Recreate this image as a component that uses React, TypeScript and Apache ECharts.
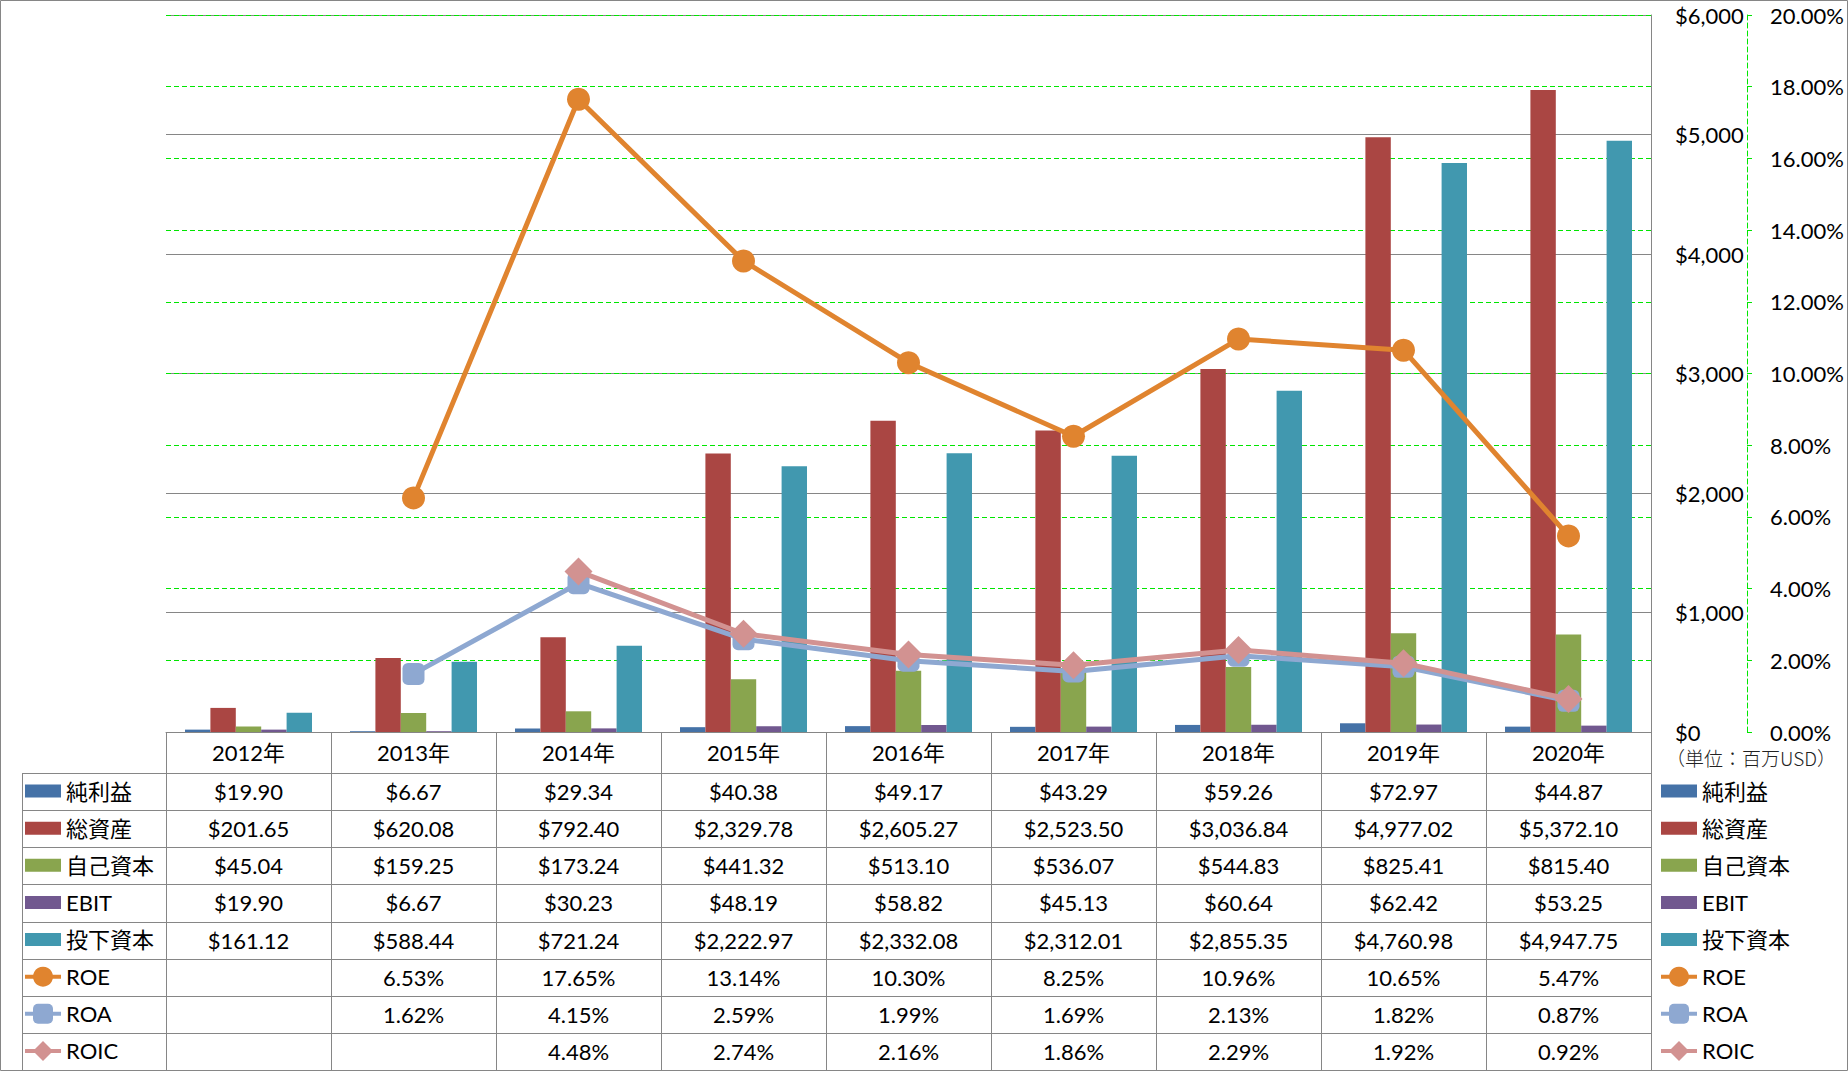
import React, { useEffect, useRef } from 'react';
import * as echarts from 'echarts';

// ---- data ----
const years = ['2012年', '2013年', '2014年', '2015年', '2016年', '2017年', '2018年', '2019年', '2020年'];
const netIncome = [19.9, 6.67, 29.34, 40.38, 49.17, 43.29, 59.26, 72.97, 44.87];
const totalAssets = [201.65, 620.08, 792.4, 2329.78, 2605.27, 2523.5, 3036.84, 4977.02, 5372.1];
const equity = [45.04, 159.25, 173.24, 441.32, 513.1, 536.07, 544.83, 825.41, 815.4];
const ebit = [19.9, 6.67, 30.23, 48.19, 58.82, 45.13, 60.64, 62.42, 53.25];
const investedCapital = [161.12, 588.44, 721.24, 2222.97, 2332.08, 2312.01, 2855.35, 4760.98, 4947.75];
const roe = [null, 6.53, 17.65, 13.14, 10.3, 8.25, 10.96, 10.65, 5.47];
const roa = [null, 1.62, 4.15, 2.59, 1.99, 1.69, 2.13, 1.82, 0.87];
const roic = [null, null, 4.48, 2.74, 2.16, 1.86, 2.29, 1.92, 0.92];

const barNames = ['純利益', '総資産', '自己資本', 'EBIT', '投下資本'];
const lineNames = ['ROE', 'ROA', 'ROIC'];
const barData = [netIncome, totalAssets, equity, ebit, investedCapital];
const lineData = [roe, roa, roic];
const barColors = ['#4572A7', '#AA4643', '#89A54E', '#71588F', '#4198AF'];
const lineColors = ['#E0842F', '#8EA8D1', '#D29291'];
const lineSymbols = ['circle', 'roundRect', 'diamond'];
const lineSymbolSizes = [23, 22, 28];
const unitText = '（単位：百万USD）';

// ---- layout ----
const W = 1848;
const H = 1071;
const PL = 166;
const PR = 1651;
const PT = 15;
const PB = 732;
const HEADER_H = 41;
const ROW_H = 37.125;
const TABLE_LEFT = 22;
const TABLE_BOTTOM = 1070;
const FONT = 'Lato, "Noto Sans CJK JP", sans-serif';
const GRAY = '#868686';
const GREEN = '#00e600';
const LEG_ITEM_H = 25;
const LEG_TEXT_H = 22;

const fmtUsd = (v: number | null) =>
  v == null ? '' : '$' + v.toLocaleString('en-US', { minimumFractionDigits: 2, maximumFractionDigits: 2 });
const fmtPct = (v: number | null) => (v == null ? '' : v.toFixed(2) + '%');

export default function App() {
  const ref = useRef<HTMLDivElement>(null);
  useEffect(() => {
    if (!ref.current) return;
    const chart = echarts.init(ref.current, null, { renderer: 'svg', width: W, height: H });

    const rowStrings: string[][] = [
      ...barData.map((arr) => arr.map(fmtUsd)),
      ...lineData.map((arr) => arr.map(fmtPct)),
    ];

    const rowAxes = rowStrings.map((strs, i) => ({
      type: 'category',
      data: years,
      position: 'bottom',
      offset: HEADER_H + i * ROW_H,
      axisLine: { show: false, onZero: false },
      axisTick: { show: false },
      splitLine: { show: false },
      axisLabel: {
        interval: 0,
        margin: ROW_H / 2,
        verticalAlign: 'middle',
        fontSize: 22,
        color: '#000',
        fontFamily: FONT,
        formatter: (_v: string, idx: number) => strs[idx],
      },
    }));

    const barIcon = 'path://M0,0H36V13H0Z';
    const legendData = [
      ...barNames.map((n) => ({ name: n, icon: barIcon })),
      ...lineNames.map((n) => ({ name: n, lineStyle: { width: 4 } })),
    ];
    const legendBase = {
      orient: 'vertical',
      top: PB + HEADER_H + ROW_H / 2 - LEG_ITEM_H / 2 + 1,
      itemWidth: 36,
      itemHeight: LEG_ITEM_H,
      itemGap: ROW_H - LEG_TEXT_H,
      padding: 0,
      selectedMode: false,
      data: legendData,
      textStyle: { fontSize: 22, color: '#000', fontFamily: FONT },
    };

    const graphics: any[] = [];
    graphics.push({
      type: 'rect',
      silent: true,
      shape: { x: 0.5, y: 0.5, width: W - 1, height: H - 1 },
      style: { fill: 'none', stroke: GRAY, lineWidth: 1 },
    });
    for (let k = 0; k <= 8; k++) {
      const y = Math.round(PB + HEADER_H + k * ROW_H) + 0.5;
      graphics.push({
        type: 'line',
        silent: true,
        shape: { x1: TABLE_LEFT, y1: y, x2: PR, y2: y },
        style: { stroke: GRAY, lineWidth: 1 },
      });
    }
    graphics.push({
      type: 'line',
      silent: true,
      shape: { x1: TABLE_LEFT + 0.5, y1: PB + HEADER_H, x2: TABLE_LEFT + 0.5, y2: TABLE_BOTTOM },
      style: { stroke: GRAY, lineWidth: 1 },
    });
    graphics.push({
      type: 'text',
      silent: true,
      left: 1666,
      top: 748,
      style: { text: unitText, fontSize: 19, fill: '#222', fontFamily: '"Noto Sans CJK JP", sans-serif', fontWeight: 300 },
    });

    const option: any = {
      animation: false,
      backgroundColor: '#fff',
      grid: { left: PL, top: PT, width: PR - PL, height: PB - PT, containLabel: false },
      xAxis: [
        {
          type: 'category',
          data: years,
          position: 'bottom',
          boundaryGap: true,
          axisLine: { show: true, onZero: false, lineStyle: { color: GRAY, width: 1 } },
          axisTick: { show: true, interval: 0, length: TABLE_BOTTOM - PB, lineStyle: { color: GRAY, width: 1 } },
          splitLine: { show: false },
          axisLabel: {
            interval: 0,
            margin: HEADER_H / 2,
            verticalAlign: 'middle',
            fontSize: 22,
            color: '#000',
            fontFamily: FONT,
          },
        },
        ...rowAxes,
      ],
      yAxis: [
        {
          type: 'value',
          position: 'right',
          min: 0,
          max: 6000,
          interval: 1000,
          axisLine: { show: true, lineStyle: { color: GRAY, width: 1 } },
          axisTick: { show: false },
          splitLine: { show: true, lineStyle: { color: GRAY, width: 1 } },
          axisLabel: {
            align: 'left',
            margin: 24,
            fontSize: 22,
            color: '#000',
            fontFamily: FONT,
            formatter: (v: number) => '$' + v.toLocaleString('en-US'),
          },
        },
        {
          type: 'value',
          position: 'right',
          offset: 96,
          min: 0,
          max: 20,
          interval: 2,
          axisLine: { show: true, lineStyle: { color: GREEN, width: 1, type: [5, 3] } },
          axisTick: { show: true, length: 8, lineStyle: { color: GREEN, width: 1, type: [5, 3] } },
          splitLine: { show: true, lineStyle: { color: GREEN, width: 1, type: [5, 3] } },
          axisLabel: {
            align: 'left',
            margin: 23,
            fontSize: 22,
            color: '#000',
            fontFamily: FONT,
            formatter: (v: number) => v.toFixed(2) + '%',
          },
        },
      ],
      legend: [
        { ...legendBase, left: TABLE_LEFT + 1 },
        { ...legendBase, left: 1659 },
      ],
      graphic: graphics,
      series: [
        ...barNames.map((n, i) => ({
          name: n,
          type: 'bar',
          xAxisIndex: 0,
          yAxisIndex: 0,
          data: barData[i],
          barWidth: 25.4,
          barGap: '0%',
          itemStyle: { color: barColors[i] },
          z: 2,
        })),
        ...lineNames.map((n, i) => ({
          name: n,
          type: 'line',
          xAxisIndex: 0,
          yAxisIndex: 1,
          data: lineData[i],
          symbol: lineSymbols[i],
          symbolSize: lineSymbolSizes[i],
          showSymbol: true,
          connectNulls: false,
          lineStyle: { color: lineColors[i], width: 5 },
          itemStyle: { color: lineColors[i] },
          z: 3 + i,
        })),
      ],
    };
    chart.setOption(option);
    return () => chart.dispose();
  }, []);

  return (
    <div
      ref={ref}
      style={{ position: 'fixed', left: 0, top: 0, width: W, height: H, background: '#fff' }}
    />
  );
}
